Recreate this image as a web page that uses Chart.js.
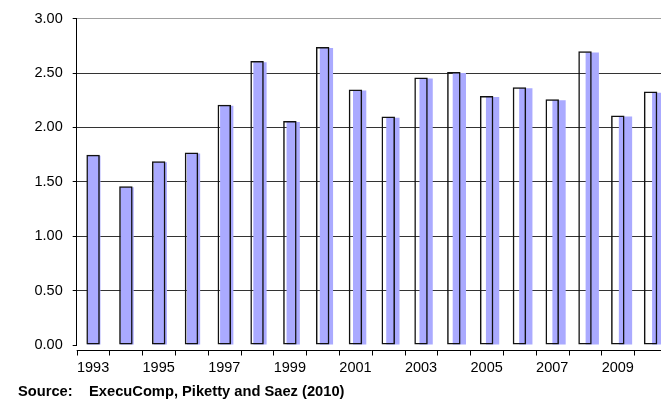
<!DOCTYPE html>
<html>
<head>
<meta charset="utf-8">
<title>ExecuComp chart</title>
<script src="https://cdn.jsdelivr.net/npm/chart.js@4.4.1/dist/chart.umd.min.js"></script>
<style>
    html, body {
        margin: 0;
        padding: 0;
        background: #fff;
        overflow: hidden;
    }
    #wrap {
        width: 661px;
        height: 409px;
        overflow: hidden;
    }
</style>
</head>
<body>
<div id="wrap">
    <canvas id="myChart" width="672" height="409"></canvas>
</div>
<script>
// #region data
const years = ['1993', '1994', '1995', '1996', '1997', '1998', '1999', '2000', '2001',
    '2002', '2003', '2004', '2005', '2006', '2007', '2008', '2009', '2010'];

// outlined bars
const ratioA = [1.75, 1.46, 1.69, 1.77, 2.21, 2.61, 2.06, 2.74, 2.35,
    2.10, 2.46, 2.51, 2.29, 2.37, 2.26, 2.70, 2.11, 2.33];

// blue bars, drawn a little to the right
const ratioB = [1.74, 1.45, 1.68, 1.76, 2.20, 2.60, 2.05, 2.73, 2.34,
    2.09, 2.45, 2.50, 2.28, 2.36, 2.25, 2.69, 2.10, 2.32];

const yTicks = [0, 0.5, 1, 1.5, 2, 2.5, 3];
const sourceText = 'Source:    ExecuComp, Piketty and Saez (2010)';
// #endregion data

const
    graph = document.querySelector('#myChart'),
    fontName = '"Liberation Sans", Arial, sans-serif';

// x axis sits a few px under the zero line, so it is drawn by hand
const xAxisLine = {
    id: 'xAxisLine',
    afterDraw(chart) {
        const ctx = chart.ctx;
        const xs = chart.scales.x;
        const y0 = chart.chartArea.bottom + 5.5;
        ctx.save();
        ctx.strokeStyle = '#000';
        ctx.lineWidth = 1;
        ctx.beginPath();
        ctx.moveTo(xs.left, y0);
        ctx.lineTo(xs.right, y0);
        for (let i = 0; i <= years.length; i++) {
            const x = Math.round(xs.getPixelForValue(i - 0.5)) + 0.5;
            ctx.moveTo(x, y0);
            ctx.lineTo(x, y0 + 5);
        }
        ctx.stroke();

        ctx.fillStyle = '#000';
        ctx.font = 'bold 14.7px ' + fontName;
        ctx.textBaseline = 'alphabetic';
        ctx.fillText(sourceText, 18, 396);
        ctx.restore();
    }
};

function graphrender() {
    const ctx = graph.getContext('2d');

    new Chart(ctx, {
        type: 'bar',
        data: {
            labels: years,
            datasets: [{
                label: 'A',
                data: ratioA,
                xAxisID: 'x',
                order: 0,
                grouped: false,
                backgroundColor: 'rgba(0,0,0,0)',
                borderColor: '#111',
                borderWidth: 1.5,
                borderSkipped: false,
                barPercentage: 0.41,
                categoryPercentage: 1
            }, {
                label: 'B',
                data: ratioB.map((v, i) => ({ x: i, y: v })),
                xAxisID: 'x2',
                order: 1,
                grouped: false,
                backgroundColor: '#aaaaff',
                borderWidth: 0,
                barPercentage: 0.40,
                categoryPercentage: 1
            }]
        },
        options: {
            responsive: false,
            animation: false,
            layout: {
                padding: { left: 0, top: 15, right: 5, bottom: 4 }
            },
            plugins: {
                legend: { display: false },
                tooltip: { enabled: false },
                title: { display: false }
            },
            scales: {
                x: {
                    type: 'category',
                    offset: true,
                    grid: { display: false },
                    border: { display: false },
                    ticks: {
                        autoSkip: false,
                        maxRotation: 0,
                        padding: 6,
                        color: '#000',
                        font: { family: fontName, size: 14.5 },
                        callback: (v, i) => (i % 2 === 0 ? years[i] : '')
                    },
                    afterFit(scale) {
                        scale.height = 60;
                    }
                },
                x2: {
                    type: 'linear',
                    display: false,
                    offset: false,
                    grid: { offset: false },
                    min: -0.515,
                    max: 17.249
                },
                y: {
                    min: 0,
                    max: 3,
                    afterBuildTicks(scale) {
                        scale.ticks = yTicks.map(v => ({ value: v }));
                    },
                    grid: {
                        color: (c) => {
                            if (c.tick.value === 0) return 'rgba(0,0,0,0)';
                            if (c.tick.value === 3) return '#a0a0a0';
                            return '#333';
                        },
                        tickColor: '#000',
                        tickLength: 4,
                        lineWidth: 1
                    },
                    border: { display: true, color: '#000', width: 1 },
                    ticks: {
                        padding: 10,
                        color: '#000',
                        font: { family: fontName, size: 14.5 },
                        callback: (v) => Number(v).toFixed(2)
                    },
                    afterFit(scale) {
                        scale.width = 76.7;
                    }
                }
            }
        },
        plugins: [xAxisLine]
    });
}

graphrender();
</script>
</body>
</html>
